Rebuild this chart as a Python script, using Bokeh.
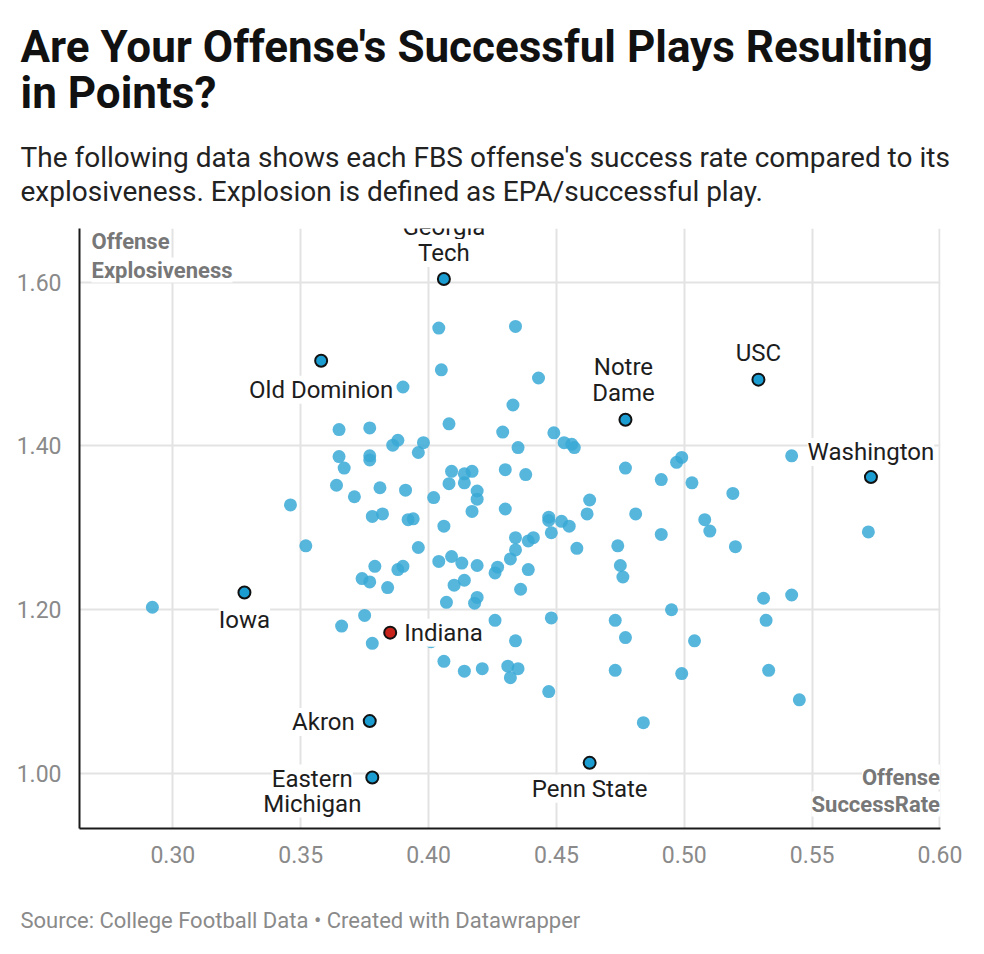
from bokeh.plotting import figure
from bokeh.models import (ColumnDataSource, Range1d, FixedTicker, NumeralTickFormatter,
                          LabelSet, Title)
from bokeh.embed import file_html
from bokeh.resources import INLINE
from bokeh.core.properties import value

# ---------------- data ----------------
title_lines = ["Are Your Offense's Successful Plays Resulting", "in Points?"]
subtitle_lines = ["The following data shows each FBS offense's success rate compared to its",
                  "explosiveness. Explosion is defined as EPA/successful play."]
source_note = "Source: College Football Data \u2022 Created with Datawrapper"
x_axis_title = ["Offense", "SuccessRate"]
y_axis_title = ["Offense", "Explosiveness"]

x_ticks = [0.30, 0.35, 0.40, 0.45, 0.50, 0.55, 0.60]
y_ticks = [1.00, 1.20, 1.40, 1.60]

success_rate = [
    0.404, 0.434, 0.405, 0.390, 0.443, 0.433, 0.365, 0.377, 0.408, 0.429,
    0.449, 0.388, 0.386, 0.398, 0.396, 0.435, 0.453, 0.456, 0.457, 0.365,
    0.377, 0.377, 0.367, 0.364, 0.371, 0.381, 0.378, 0.346, 0.352, 0.379,
    0.374, 0.377, 0.292, 0.375, 0.366, 0.378, 0.409, 0.417, 0.414, 0.430,
    0.438, 0.477, 0.491, 0.408, 0.414, 0.391, 0.402, 0.419, 0.419, 0.463,
    0.430, 0.417, 0.462, 0.481, 0.382, 0.392, 0.394, 0.447, 0.447, 0.452,
    0.455, 0.406, 0.448, 0.491, 0.434, 0.439, 0.441, 0.396, 0.458, 0.474,
    0.434, 0.432, 0.404, 0.409, 0.413, 0.419, 0.475, 0.388, 0.390, 0.427,
    0.426, 0.439, 0.476, 0.384, 0.410, 0.414, 0.436, 0.407, 0.418, 0.419,
    0.495, 0.426, 0.448, 0.473, 0.499, 0.497, 0.542, 0.503, 0.519, 0.508,
    0.510, 0.520, 0.572, 0.531, 0.542, 0.532, 0.401, 0.434, 0.477, 0.406,
    0.414, 0.421, 0.431, 0.435, 0.432, 0.473, 0.447, 0.484, 0.504, 0.499,
    0.533, 0.545,
]
explosiveness = [
    1.544, 1.546, 1.493, 1.472, 1.483, 1.450, 1.420, 1.422, 1.427, 1.417,
    1.416, 1.407, 1.401, 1.404, 1.392, 1.398, 1.404, 1.402, 1.398, 1.387,
    1.388, 1.383, 1.373, 1.352, 1.338, 1.349, 1.314, 1.328, 1.278, 1.253,
    1.238, 1.234, 1.203, 1.193, 1.180, 1.159, 1.369, 1.369, 1.366, 1.371,
    1.365, 1.373, 1.359, 1.354, 1.355, 1.346, 1.337, 1.345, 1.335, 1.334,
    1.323, 1.320, 1.317, 1.317, 1.317, 1.310, 1.311, 1.313, 1.309, 1.308,
    1.302, 1.302, 1.294, 1.292, 1.288, 1.284, 1.288, 1.276, 1.275, 1.278,
    1.273, 1.262, 1.259, 1.265, 1.257, 1.254, 1.254, 1.249, 1.253, 1.252,
    1.245, 1.249, 1.240, 1.227, 1.230, 1.236, 1.225, 1.209, 1.208, 1.215,
    1.200, 1.187, 1.190, 1.187, 1.386, 1.380, 1.388, 1.355, 1.342, 1.310,
    1.296, 1.277, 1.295, 1.214, 1.218, 1.187, 1.161, 1.162, 1.166, 1.137,
    1.125, 1.128, 1.131, 1.128, 1.117, 1.126, 1.100, 1.062, 1.162, 1.122,
    1.126, 1.090,
]

hl_teams = ["Georgia Tech", "Old Dominion", "USC", "Notre Dame", "Washington",
            "Iowa", "Indiana", "Akron", "Eastern Michigan", "Penn State"]
hl_success = [0.406, 0.358, 0.529, 0.477, 0.573, 0.328, 0.385, 0.377, 0.378, 0.463]
hl_explosive = [1.604, 1.504, 1.481, 1.432, 1.362, 1.221, 1.172, 1.064, 0.995, 1.013]

# ---------------- style / layout ----------------
FONT = "Roboto"
W, H = 984, 954
BL, BR = 79, 44
X0, X1 = 0.2635, 0.6002
Y0, Y1 = 0.9328, 1.6656

label_lines = {"Georgia Tech": ["Georgia", "Tech"], "Notre Dame": ["Notre", "Dame"],
               "Eastern Michigan": ["Eastern", "Michigan"]}
placement = {
    "Georgia Tech": ("center", 0, [44, 18]),
    "Old Dominion": ("center", 0, [-37]),
    "USC": ("center", 0, [19]),
    "Notre Dame": ("center", -2, [45, 19]),
    "Washington": ("center", 0, [17]),
    "Iowa": ("center", 0, [-35]),
    "Indiana": ("left", 14, [-8]),
    "Akron": ("right", -15, [-9]),
    "Eastern Michigan": ("center", -60, [-9, -34]),
    "Penn State": ("center", 0, [-34]),
}

p = figure(width=W, height=H, x_range=Range1d(X0, X1), y_range=Range1d(Y0, Y1),
           toolbar_location=None, output_backend="svg", title_location=None,
           min_border_left=BL, min_border_right=BR, min_border_top=0, min_border_bottom=0)
p.outline_line_color = None
p.xaxis.ticker = FixedTicker(ticks=x_ticks)
p.yaxis.ticker = FixedTicker(ticks=y_ticks)
p.axis.formatter = NumeralTickFormatter(format="0.00")
p.grid.grid_line_color = "#e3e3e3"
p.grid.grid_line_width = 2
p.axis.major_tick_line_color = None
p.axis.minor_tick_line_color = None
p.axis.axis_line_color = "#1a1a1a"
p.axis.axis_line_width = 2
p.axis.major_label_text_font = FONT
p.axis.major_label_text_font_size = "23px"
p.axis.major_label_text_color = "#8a8a8a"
p.xaxis.major_label_standoff = 11
p.yaxis.major_label_standoff = 12

# titles (first added to "above" sits nearest the frame)
p.add_layout(Title(text=" ", text_font_size="1px", standoff=17), "above")
p.add_layout(Title(text="\n".join(subtitle_lines), text_font=FONT, text_font_size="28px",
                   text_font_style="normal", text_color="#222222", align="left",
                   offset=-59, standoff=0, text_line_height=1.05), "above")
p.add_layout(Title(text="\n".join(title_lines), text_font=FONT, text_font_size="44px",
                   text_font_style="bold", text_color="#111111", align="left", offset=-59,
                   standoff=38, text_line_height=0.89), "above")
p.add_layout(Title(text=" ", text_font_size="1px", standoff=16), "below")
p.add_layout(Title(text=source_note, text_font=FONT, text_font_size="22px",
                   text_font_style="normal", text_color="#8a8a8a", align="left",
                   offset=-59, standoff=43), "below")

src_all = ColumnDataSource(dict(x=success_rate, y=explosiveness))
p.scatter(x="x", y="y", source=src_all, size=13, fill_color="#3aa9d6",
          fill_alpha=0.85, line_color=None)

hl_colors = ["#c8231b" if t == "Indiana" else "#1b9dd1" for t in hl_teams]
src_hl = ColumnDataSource(dict(x=hl_success, y=hl_explosive, c=hl_colors))
p.scatter(x="x", y="y", source=src_hl, size=12, fill_color="c",
          line_color="#111111", line_width=2)

groups = {}
for team, xs, ys in zip(hl_teams, hl_success, hl_explosive):
    align, xo, yos = placement[team]
    lines = label_lines.get(team, [team])
    for line, yo in zip(lines, yos):
        g = groups.setdefault(align, dict(x=[], y=[], text=[], xo=[], yo=[]))
        g["x"].append(xs); g["y"].append(ys); g["text"].append(line)
        g["xo"].append(xo); g["yo"].append(yo)

for align, g in groups.items():
    p.add_layout(LabelSet(x="x", y="y", text="text", x_offset="xo", y_offset="yo",
                          source=ColumnDataSource(g), text_align=align,
                          text_baseline="alphabetic", text_font=value(FONT),
                          text_font_size="24px", text_color="#1d1d1d",
                          background_fill_color="white", background_fill_alpha=1.0))

yt = LabelSet(x="x", y="y", text="text", x_offset=12, y_offset="yo",
              source=ColumnDataSource(dict(x=[X0] * 2, y=[Y1] * 2,
                                           text=y_axis_title, yo=[-20, -49])),
              text_align="left", text_baseline="alphabetic", text_font=value(FONT),
              text_font_style="bold", text_font_size="22px", text_color="#777777",
              background_fill_color="white", background_fill_alpha=1.0)
xt = LabelSet(x="x", y="y", text="text", x_offset=0, y_offset="yo",
              source=ColumnDataSource(dict(x=[x_ticks[-1]] * 2, y=[Y0] * 2,
                                           text=x_axis_title, yo=[44, 17])),
              text_align="right", text_baseline="alphabetic", text_font=value(FONT),
              text_font_style="bold", text_font_size="22px", text_color="#777777",
              background_fill_color="white", background_fill_alpha=1.0)
p.add_layout(yt)
p.add_layout(xt)

open("out.html", "w").write(file_html(p, INLINE))
